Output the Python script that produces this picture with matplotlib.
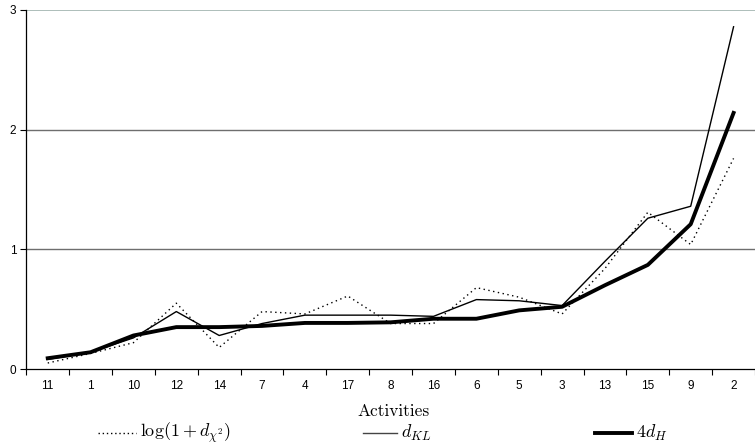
import numpy as np
import matplotlib
matplotlib.use("Agg")
import matplotlib.pyplot as plt
from matplotlib.lines import Line2D

plt.rcParams['mathtext.fontset'] = 'cm'

activities = ["11", "1", "10", "12", "14", "7", "4", "17", "8", "16", "6", "5", "3", "13", "15", "9", "2"]

# log(1 + d_chi2)
chi2 = [0.05, 0.13, 0.22, 0.55, 0.18, 0.48, 0.46, 0.61, 0.38, 0.38, 0.68, 0.60, 0.46, 0.84, 1.31, 1.04, 1.76]
# d_KL
kl = [0.08, 0.14, 0.26, 0.48, 0.28, 0.38, 0.45, 0.45, 0.45, 0.44, 0.58, 0.57, 0.53, 0.90, 1.26, 1.36, 2.86]
# 4 d_H
hell = [0.09, 0.14, 0.28, 0.35, 0.35, 0.36, 0.385, 0.385, 0.39, 0.42, 0.42, 0.49, 0.52, 0.70, 0.87, 1.21, 2.14]

W, H = 755, 448
fig = plt.figure(figsize=(W / 100, H / 100), dpi=100)
ax = fig.add_axes([26 / W, 1 - 369 / H, 1 - 26 / W, (369 - 10) / H])

x = np.arange(len(activities))

ax.axhline(1, color="#6e6e6e", lw=1.0, zorder=1)
ax.axhline(2, color="#6e6e6e", lw=1.0, zorder=1)
ax.axhline(3, color="#9fb3ae", lw=1.2, zorder=1)

ax.plot(x, chi2, color="black", lw=1.0, ls=(0, (1, 2.5)), zorder=3)
ax.plot(x, kl, color="black", lw=1.0, zorder=3)
ax.plot(x, hell, color="black", lw=2.8, zorder=4)

ax.set_xlim(-0.507, 16.29)
ax.set_ylim(0, 3)

for s in ["top", "right"]:
    ax.spines[s].set_visible(False)
ax.spines["left"].set_linewidth(0.9)
ax.spines["bottom"].set_linewidth(0.9)

ax.set_xticks(x)
ax.set_xticklabels(activities, fontfamily="Liberation Sans", fontsize=8.5)
ax.set_xticks(np.arange(len(activities) + 1) - 0.5, minor=True)
ax.tick_params(axis="x", which="major", length=0, pad=8)
ax.tick_params(axis="x", which="minor", length=4, direction="out", width=0.8)

ax.set_yticks([0, 1, 2, 3])
ax.set_yticklabels(["0", "1", "2", "3"], fontfamily="Liberation Sans", fontsize=8.5)
ax.tick_params(axis="y", length=4, direction="out", width=0.8, pad=3)

fig.text(394 / W, 1 - 411 / H, "Activities", fontfamily="cmr10", fontsize=12.5,
         ha="center", va="center")

# legend drawn by hand, three entries spread across the bottom
ly = 1 - 433 / H
entries = [
    ((98, 136), dict(lw=1.0, ls=(0, (1, 2.0))), r"$\log(1+d_{\chi^2})$"),
    ((363, 397), dict(lw=1.0, color="#444444"), r"$d_{KL}$"),
    ((595, 632), dict(lw=2.8, color="black"), r"$4d_H$"),
]
for (x0, x1), style, lab in entries:
    style.setdefault("color", "black")
    fig.add_artist(Line2D([x0 / W, x1 / W], [ly, ly],
                          transform=fig.transFigure, **style))
    fig.text((x1 + 4) / W, ly, lab, fontsize=13, ha="left", va="center")

fig.savefig("out.png", dpi=100)
